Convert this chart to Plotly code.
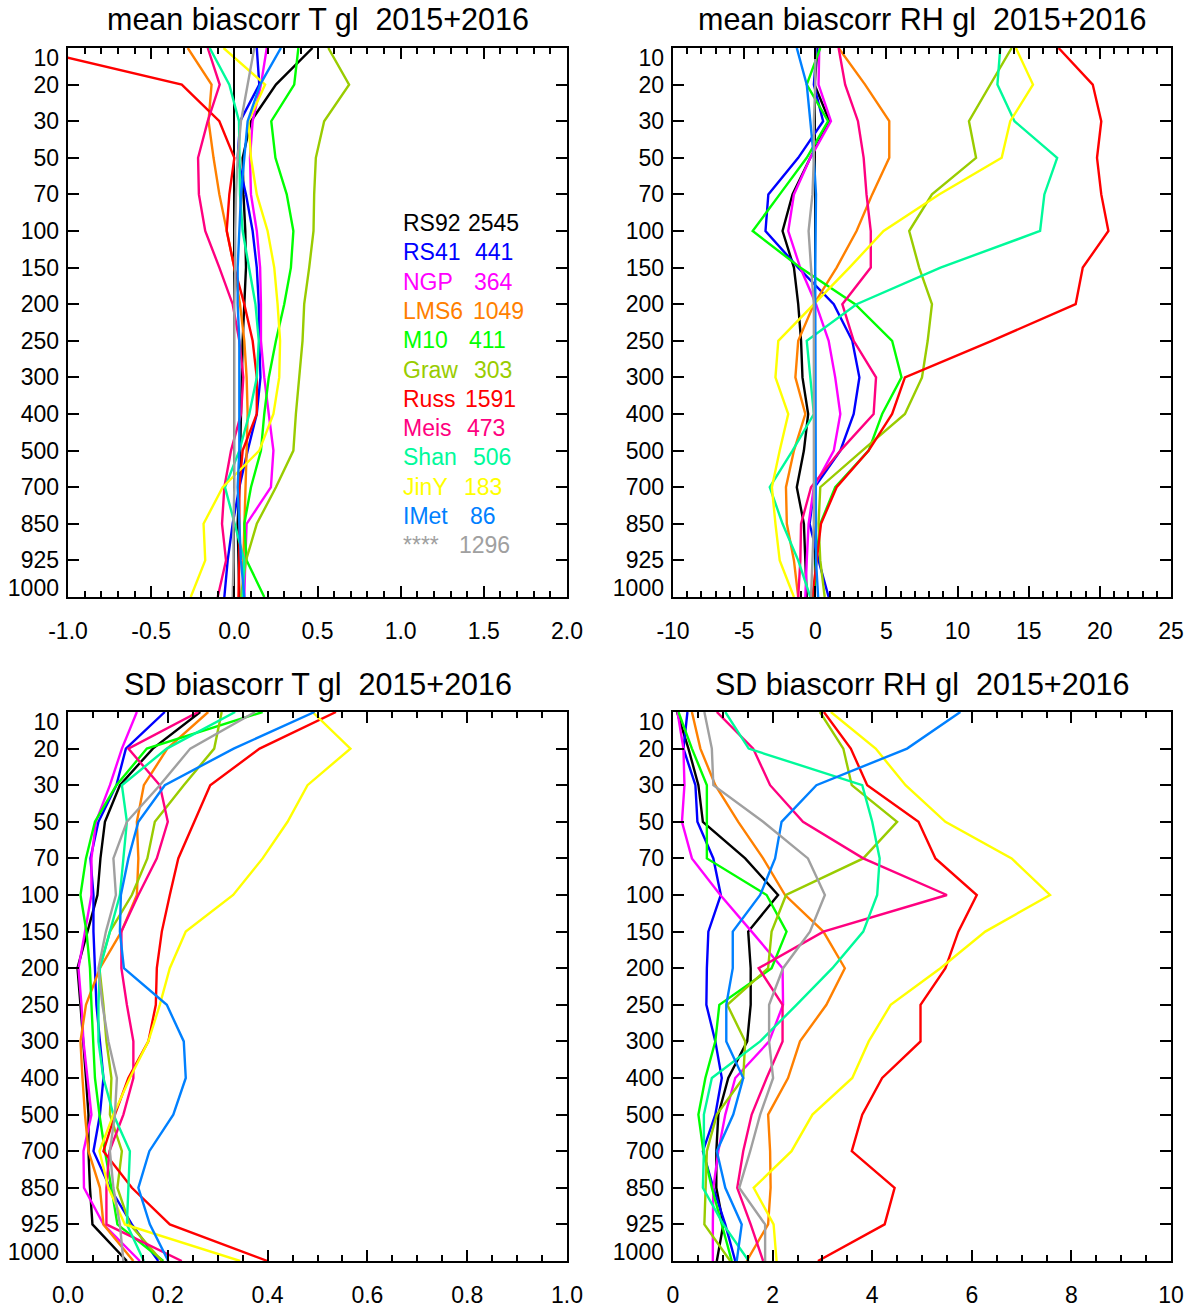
import plotly.graph_objects as go

# ---------------- data ----------------
levels = ["10", "20", "30", "50", "70", "100", "150", "200", "250", "300",
          "400", "500", "700", "850", "925", "1000"]

names = ["RS92", "RS41", "NGP", "LMS6", "M10", "Graw", "Russ", "Meis", "Shan", "JinY", "IMet", "****"]
counts = ["2545", "441", "364", "1049", "411", "303", "1591", "473", "506", "183", "86", "1296"]
colors = ["#000000", "#0000FF", "#FF00FF", "#FF8000", "#00FF00", "#99CC00",
          "#FF0000", "#FF0080", "#00FA9A", "#FFFF00", "#0080FF", "#A0A0A0"]

# x tick labels of the four panels
mt_ticks = [-1.0, -0.5, 0.0, 0.5, 1.0, 1.5, 2.0]
mt_labels = ["-1.0", "-0.5", "0.0", "0.5", "1.0", "1.5", "2.0"]
mr_ticks = [-10, -5, 0, 5, 10, 15, 20, 25]
mr_labels = ["-10", "-5", "0", "5", "10", "15", "20", "25"]
st_ticks = [0.0, 0.2, 0.4, 0.6, 0.8, 1.0]
st_labels = ["0.0", "0.2", "0.4", "0.6", "0.8", "1.0"]
sr_ticks = [0, 2, 4, 6, 8, 10]
sr_labels = ["0", "2", "4", "6", "8", "10"]

# mean bias-corrected T (K)
mt_rs92 = [0.47, 0.25, 0.10, 0.05, 0.055, 0.066, 0.07, 0.06, 0.05, 0.045, 0.04, 0.034, 0.03, 0.02, 0.024, 0.03]
mt_rs41 = [0.135, 0.15, 0.035, 0.02, 0.07, 0.11, 0.135, 0.147, 0.15, 0.157, 0.135, 0.08, 0.03, -0.01, -0.04, -0.06]
mt_ngp = [0.195, 0.16, 0.11, 0.094, 0.10, 0.135, 0.155, 0.16, 0.16, 0.18, 0.207, 0.235, 0.22, 0.074, 0.066, 0.06]
mt_lms6 = [-0.28, -0.137, -0.155, -0.125, -0.09, -0.046, 0.0, 0.034, 0.06, 0.074, 0.08, 0.074, 0.066, 0.06, 0.054, 0.05]
mt_m10 = [0.385, 0.36, 0.222, 0.247, 0.315, 0.355, 0.34, 0.30, 0.25, 0.207, 0.18, 0.16, 0.10, 0.06, 0.074, 0.18]
mt_graw = [0.565, 0.69, 0.54, 0.49, 0.48, 0.476, 0.45, 0.42, 0.41, 0.39, 0.37, 0.355, 0.25, 0.135, 0.07, 0.04]
mt_russ = [-1.25, -0.316, -0.09, 0.0, -0.03, -0.046, 0.0, 0.06, 0.11, 0.135, 0.135, 0.05, 0.03, 0.03, 0.03, 0.025]
mt_meis = [-0.16, -0.088, -0.16, -0.218, -0.213, -0.175, -0.09, -0.01, 0.03, 0.054, 0.04, -0.02, -0.06, -0.074, -0.05, -0.10]
mt_shan = [-0.148, -0.03, 0.028, 0.03, 0.034, 0.05, 0.09, 0.127, 0.147, 0.135, 0.09, 0.03, -0.056, 0.0, 0.06, 0.05]
mt_jiny = [-0.065, 0.185, 0.085, 0.10, 0.135, 0.2, 0.24, 0.26, 0.275, 0.27, 0.235, 0.15, -0.07, -0.185, -0.175, -0.262]
mt_imet = [0.28, 0.155, 0.08, 0.06, 0.04, 0.03, 0.02, 0.02, 0.03, 0.03, 0.03, 0.03, 0.02, 0.03, 0.04, 0.06]
mt_gray = [0.12, 0.08, 0.04, 0.02, 0.01, 0.005, 0.005, 0.0, 0.0, 0.0, 0.0, 0.0, 0.0, -0.005, -0.005, -0.01]

# mean bias-corrected RH (%)
mr_rs92 = [0.16, -0.05, 1.0, -0.35, -1.6, -2.3, -1.5, -1.2, -1.0, -0.9, -0.5, -0.8, -1.3, -0.8, -0.7, -0.6]
mr_rs41 = [0.1, -0.1, 0.55, -1.2, -3.3, -3.5, -1.2, 1.3, 2.6, 3.1, 2.7, 1.76, -0.05, -0.4, 0.23, 0.94]
mr_ngp = [0.28, 0.23, 1.1, -0.35, -1.5, -1.9, -1.06, 0.05, 0.94, 1.4, 1.76, 1.3, -0.1, -0.47, -0.6, -0.7]
mr_lms6 = [1.64, 3.5, 5.2, 5.2, 4.0, 2.9, 1.5, -0.1, -1.2, -1.4, -0.7, -1.5, -2.06, -2.0, -1.5, -1.2]
mr_m10 = [0.35, -0.6, 0.9, -0.6, -2.5, -4.4, -1.06, 2.8, 5.4, 6.06, 4.7, 3.75, 1.4, 0.35, 0.05, -0.1]
mr_graw = [13.8, 12.3, 10.8, 11.3, 8.2, 6.6, 7.3, 8.2, 7.9, 7.5, 6.3, 3.3, 0.35, 0.23, 0.35, 0.66]
mr_russ = [17.1, 19.5, 20.1, 19.8, 20.1, 20.6, 18.8, 18.3, 12.4, 6.3, 5.4, 3.75, 1.5, 0.4, 0.1, -0.2]
mr_meis = [1.64, 2.1, 3.0, 3.4, 3.6, 3.9, 3.9, 1.9, 2.7, 4.27, 4.1, 1.76, -0.3, -1.0, -1.05, -1.2]
mr_shan = [13.0, 12.8, 14.0, 17.0, 16.1, 15.8, 8.8, 2.9, -0.6, -0.35, -0.1, -1.6, -3.2, -2.3, -1.2, -0.35]
mr_jiny = [14.1, 15.3, 13.7, 13.1, 8.7, 4.8, 2.4, -0.1, -2.6, -2.8, -1.9, -2.5, -3.05, -2.8, -2.5, -1.5]
mr_imet = [-1.3, -0.6, -0.35, -0.1, 0.05, 0.0, 0.0, 0.0, 0.0, 0.0, 0.0, 0.0, 0.0, 0.0, 0.05, 0.2]
mr_gray = [0.0, 0.0, -0.1, -0.1, -0.2, -0.47, -0.3, -0.1, -0.1, -0.1, -0.1, -0.1, -0.1, -0.1, -0.2, -0.3]

# SD bias-corrected T (K)
st_rs92 = [0.265, 0.17, 0.104, 0.074, 0.065, 0.059, 0.039, 0.019, 0.025, 0.031, 0.036, 0.041, 0.041, 0.044, 0.049, 0.118]
st_rs41 = [0.194, 0.116, 0.097, 0.061, 0.045, 0.051, 0.051, 0.054, 0.057, 0.064, 0.071, 0.064, 0.051, 0.084, 0.128, 0.181]
st_ngp = [0.138, 0.108, 0.084, 0.056, 0.047, 0.047, 0.034, 0.021, 0.027, 0.031, 0.039, 0.047, 0.031, 0.032, 0.071, 0.144]
st_lms6 = [0.281, 0.199, 0.152, 0.138, 0.141, 0.138, 0.107, 0.064, 0.036, 0.025, 0.029, 0.034, 0.041, 0.064, 0.071, 0.131]
st_m10 = [0.39, 0.158, 0.097, 0.054, 0.036, 0.025, 0.037, 0.044, 0.047, 0.051, 0.054, 0.063, 0.074, 0.087, 0.099, 0.191]
st_graw = [0.308, 0.293, 0.232, 0.174, 0.159, 0.128, 0.084, 0.063, 0.071, 0.077, 0.087, 0.084, 0.108, 0.099, 0.124, 0.188]
st_russ = [0.537, 0.384, 0.285, 0.253, 0.221, 0.204, 0.188, 0.178, 0.176, 0.161, 0.121, 0.094, 0.071, 0.128, 0.204, 0.40]
st_meis = [0.261, 0.121, 0.184, 0.20, 0.178, 0.141, 0.107, 0.107, 0.118, 0.131, 0.131, 0.111, 0.083, 0.077, 0.077, 0.228]
st_shan = [0.335, 0.198, 0.108, 0.118, 0.111, 0.104, 0.084, 0.064, 0.061, 0.061, 0.071, 0.091, 0.124, 0.121, 0.118, 0.152]
st_jiny = [0.49, 0.566, 0.48, 0.44, 0.39, 0.331, 0.236, 0.204, 0.184, 0.161, 0.124, 0.091, 0.063, 0.081, 0.114, 0.345]
st_imet = [0.494, 0.332, 0.194, 0.141, 0.121, 0.106, 0.104, 0.112, 0.198, 0.232, 0.236, 0.211, 0.163, 0.141, 0.164, 0.201]
st_gray = [0.375, 0.245, 0.184, 0.118, 0.091, 0.096, 0.076, 0.061, 0.069, 0.081, 0.098, 0.094, 0.084, 0.091, 0.104, 0.111]

# SD bias-corrected RH (%)
sr_rs92 = [0.08, 0.31, 0.51, 0.6, 1.45, 2.11, 1.51, 1.56, 1.56, 1.49, 1.11, 0.91, 0.87, 0.87, 1.01, 0.88]
sr_rs41 = [0.29, 0.21, 0.45, 0.49, 0.81, 0.96, 0.71, 0.68, 0.67, 0.85, 0.98, 0.85, 0.6, 0.81, 1.05, 1.25]
sr_ngp = [0.09, 0.21, 0.23, 0.18, 0.38, 0.95, 1.58, 2.2, 2.21, 1.93, 1.25, 1.05, 0.91, 0.81, 0.8, 0.8]
sr_lms6 = [0.38, 0.55, 0.85, 1.31, 1.81, 2.25, 3.02, 3.45, 3.08, 2.55, 2.31, 1.91, 1.95, 1.96, 1.91, 1.48]
sr_m10 = [0.11, 0.38, 0.68, 0.68, 0.68, 1.88, 2.28, 1.98, 0.93, 0.85, 0.65, 0.51, 0.61, 0.78, 0.98, 1.18]
sr_graw = [2.95, 3.42, 3.59, 4.5, 3.82, 2.27, 1.98, 1.91, 1.09, 1.45, 1.41, 0.88, 0.68, 0.65, 0.63, 1.15]
sr_russ = [3.03, 3.57, 3.9, 4.93, 5.27, 6.1, 5.73, 5.47, 4.97, 4.97, 4.2, 3.8, 3.59, 4.45, 4.25, 2.91]
sr_meis = [0.88, 1.61, 1.95, 2.61, 3.82, 5.5, 3.02, 1.72, 2.2, 2.2, 1.88, 1.58, 1.41, 1.29, 1.56, 1.81]
sr_shan = [1.05, 1.52, 3.8, 4.0, 4.15, 4.1, 3.82, 3.2, 2.48, 1.75, 0.78, 0.62, 0.62, 0.6, 1.01, 1.52]
sr_jiny = [3.17, 4.07, 4.67, 5.47, 6.8, 7.57, 6.27, 5.37, 4.37, 3.93, 3.6, 2.8, 2.38, 1.62, 2.02, 2.08]
sr_imet = [5.77, 4.7, 2.88, 2.18, 2.05, 1.75, 1.2, 1.2, 1.07, 1.07, 1.41, 1.21, 0.88, 1.05, 1.38, 1.28]
sr_gray = [0.63, 0.78, 0.81, 1.81, 2.71, 3.05, 2.75, 2.21, 1.93, 1.93, 2.01, 1.75, 1.55, 1.33, 1.85, 1.85]

mean_t = [mt_rs92, mt_rs41, mt_ngp, mt_lms6, mt_m10, mt_graw, mt_russ, mt_meis, mt_shan, mt_jiny, mt_imet, mt_gray]
mean_rh = [mr_rs92, mr_rs41, mr_ngp, mr_lms6, mr_m10, mr_graw, mr_russ, mr_meis, mr_shan, mr_jiny, mr_imet, mr_gray]
sd_t = [st_rs92, st_rs41, st_ngp, st_lms6, st_m10, st_graw, st_russ, st_meis, st_shan, st_jiny, st_imet, st_gray]
sd_rh = [sr_rs92, sr_rs41, sr_ngp, sr_lms6, sr_m10, sr_graw, sr_russ, sr_meis, sr_shan, sr_jiny, sr_imet, sr_gray]

titles = ["mean biascorr T gl\u00a0 2015+2016", "mean biascorr RH gl\u00a0 2015+2016",
          "SD biascorr T gl\u00a0 2015+2016", "SD biascorr RH gl\u00a0 2015+2016"]

# ---------------- layout ----------------
W, H = 1196, 1311
FONT = "Liberation Sans, Arial, Helvetica, sans-serif"
lev_idx = list(range(len(levels)))

panels = [
    dict(data=mean_t, xr=[-1.0, 2.0], tv=mt_ticks, tt=mt_labels, mdt=0.1, zero=True,
         box=(68, 567, 48, 597)),
    dict(data=mean_rh, xr=[-10, 25], tv=mr_ticks, tt=mr_labels, mdt=1, zero=True,
         box=(673, 1171, 48, 597)),
    dict(data=sd_t, xr=[0.0, 1.0], tv=st_ticks, tt=st_labels, mdt=0.05, zero=False,
         box=(68, 567, 712, 1261)),
    dict(data=sd_rh, xr=[0, 10], tv=sr_ticks, tt=sr_labels, mdt=0.5, zero=False,
         box=(673, 1171, 712, 1261)),
]

fig = go.Figure()
layout = dict(width=W, height=H, margin=dict(l=0, r=0, t=0, b=0, pad=0, autoexpand=False),
              paper_bgcolor="white", plot_bgcolor="white", showlegend=False,
              font=dict(family=FONT, size=23, color="black"))
annotations = []

label_pos = [0.27] + lev_idx[1:-1] + [14.75]

for p, pan in enumerate(panels):
    n = p + 1
    xa = "x" if n == 1 else f"x{n}"
    ya = "y" if n == 1 else f"y{n}"
    x0, x1, yt, yb = pan["box"]
    xdom = [x0 / W, x1 / W]
    ydom = [1 - yb / H, 1 - yt / H]

    for s, vals in enumerate(pan["data"]):
        fig.add_trace(go.Scatter(x=vals, y=lev_idx, mode="lines",
                                 line=dict(color=colors[s], width=2.4),
                                 xaxis=xa, yaxis=ya, hoverinfo="skip"))

    layout[f"xaxis{n}"] = dict(
        domain=xdom, anchor=ya, range=pan["xr"], tickmode="array",
        tickvals=pan["tv"], ticktext=pan["tt"], automargin=False,
        ticks="inside", ticklen=11, tickwidth=2, tickcolor="black",
        minor=dict(dtick=pan["mdt"], tick0=0, ticks="inside", ticklen=6, tickwidth=2,
                   tickcolor="black"),
        showline=True, linecolor="black", linewidth=2, mirror="ticks",
        showgrid=False, zeroline=pan["zero"], zerolinecolor="black", zerolinewidth=2,
        ticklabelstandoff=12, tickfont=dict(size=23, family=FONT, color="black"),
        layer="above traces")
    layout[f"yaxis{n}"] = dict(
        domain=ydom, anchor=xa, range=[15, 0], tickvals=lev_idx, automargin=False,
        showticklabels=False, ticks="inside", ticklen=11, tickwidth=2, tickcolor="black",
        showline=True, linecolor="black", linewidth=2, mirror="ticks",
        showgrid=False, zeroline=False, layer="above traces")
    # overlay axis carrying the pressure-level labels (end labels nudged inside)
    layout[f"yaxis{n + 4}"] = dict(
        overlaying=ya, anchor=xa, side="left", range=[15, 0], automargin=False,
        tickvals=label_pos, ticktext=levels, ticks="", showline=False,
        showgrid=False, zeroline=False, ticklabelstandoff=8,
        tickfont=dict(size=23, family=FONT, color="black"))
    fig.add_trace(go.Scatter(x=[None], y=[None], xaxis=xa, yaxis=f"y{n + 4}",
                             showlegend=False, hoverinfo="skip"))

    annotations.append(dict(text=titles[p], xref="paper", yref="paper",
                            x=(x0 + x1) / 2 / W, y=1 - (yt - 28) / H,
                            xanchor="center", yanchor="middle", showarrow=False,
                            font=dict(size=30.5, family=FONT, color="black")))

# legend text block inside first panel
name_x = 401
count_x = [466, 473, 472, 471, 467, 472, 463, 465, 471, 462, 468, 457]
row_y0, row_dy = 223, 29.3
for s in range(len(names)):
    yy = 1 - (row_y0 + s * row_dy) / H
    annotations.append(dict(text=names[s], xref="paper", yref="paper", x=name_x / W, y=yy,
                            xanchor="left", yanchor="middle", showarrow=False,
                            font=dict(size=23, family=FONT, color=colors[s])))
    annotations.append(dict(text=counts[s], xref="paper", yref="paper", x=count_x[s] / W, y=yy,
                            xanchor="left", yanchor="middle", showarrow=False,
                            font=dict(size=23, family=FONT, color=colors[s])))

layout["annotations"] = annotations
fig.update_layout(**layout)
fig.write_html("out.html")
